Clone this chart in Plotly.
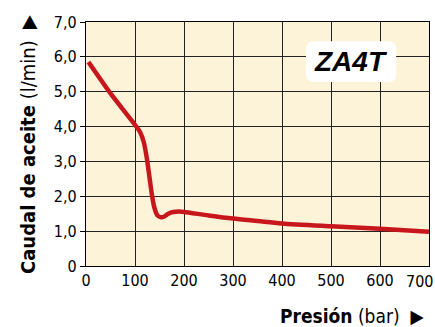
import plotly.graph_objects as go

pressure = [5, 50, 100, 110, 118, 124, 130, 135, 140, 146, 153, 160, 168, 178, 190, 200, 250, 300, 350, 400, 500, 600, 700]
flow = [5.85, 4.95, 4.05, 3.85, 3.55, 3.1, 2.5, 2.0, 1.65, 1.45, 1.40, 1.42, 1.5, 1.55, 1.56, 1.55, 1.45, 1.36, 1.29, 1.22, 1.14, 1.07, 0.98]

x_ticks = [0, 100, 200, 300, 400, 500, 600, 700]
y_ticks = [0, 1, 2, 3, 4, 5, 6, 7]
y_tick_labels = ["0", "1,0", "2,0", "3,0", "4,0", "5,0", "6,0", "7,0"]

model_label = "ZA4T"
x_title = "<b>Presión</b> (bar)  ▶"
y_title = "<b>Caudal de aceite</b> (l/min)  ▶"

FONT = "DejaVu Sans Condensed, Liberation Sans Narrow, Liberation Sans, Arial, sans-serif"

fig = go.Figure()
fig.add_trace(go.Scatter(
    x=pressure, y=flow, mode="lines",
    line=dict(color="#c8161d", width=4.5, shape="spline", smoothing=0.8),
    hoverinfo="skip", showlegend=False,
))

# rounded white box for model label (data coords)
x0, x1, y0, y1 = 449, 633, 5.28, 6.45
rx, ry = 16, 0.23
path = (f"M {x0+rx},{y1} L {x1-rx},{y1} Q {x1},{y1} {x1},{y1-ry} "
        f"L {x1},{y0+ry} Q {x1},{y0} {x1-rx},{y0} L {x0+rx},{y0} "
        f"Q {x0},{y0} {x0},{y0+ry} L {x0},{y1-ry} Q {x0},{y1} {x0+rx},{y1} Z")
fig.add_shape(type="path", path=path, xref="x", yref="y",
              fillcolor="white", line=dict(width=0), layer="above")

fig.add_annotation(x=(x0 + x1) / 2, y=(y0 + y1) / 2, xref="x", yref="y",
                   text=f"<b><i>{model_label}</i></b>", showarrow=False,
                   font=dict(family="Liberation Sans, Arial", size=28, color="black"))

# last x tick label, right-aligned so it stays inside the figure
fig.add_annotation(x=x_ticks[-1], y=0, xref="x", yref="y", text=str(x_ticks[-1]),
                   showarrow=False, xanchor="right", yanchor="top", xshift=6, yshift=-4,
                   font=dict(family=FONT, size=16, color="black"))

fig.add_annotation(x=426, y=316, xref="paper", yref="paper", text=x_title,
                   showarrow=False, xanchor="right", yanchor="middle",
                   font=dict(family=FONT, size=19, color="black"))
fig.add_annotation(x=28, y=145, xref="paper", yref="paper", text=y_title,
                   showarrow=False, textangle=-90, xanchor="center", yanchor="middle",
                   font=dict(family=FONT, size=20, color="black"))

W, H = 435, 327
L, R, T, B = 86, 6, 22, 61
pw, ph = W - L - R, H - T - B
for ann in fig.layout.annotations:
    if ann.xref == "paper":
        ann.x = (ann.x - L) / pw
        ann.y = (H - B - ann.y) / ph

fig.update_layout(
    width=W, height=H,
    margin=dict(l=L, r=R, t=T, b=B, pad=0, autoexpand=False),
    paper_bgcolor="white", plot_bgcolor="#fdf3d8",
    font=dict(family=FONT, size=16, color="black"),
    xaxis=dict(range=[0, 700], tickvals=x_ticks[:-1], ticktext=[str(v) for v in x_ticks[:-1]],
               showgrid=True, gridcolor="#222", gridwidth=1,
               showline=True, linecolor="black", linewidth=1.2, mirror=True,
               ticks="", zeroline=False, fixedrange=True, automargin=False),
    yaxis=dict(range=[0, 7], tickvals=y_ticks, ticktext=y_tick_labels,
               showgrid=True, gridcolor="#222", gridwidth=1,
               showline=True, linecolor="black", linewidth=1.2, mirror=True,
               ticks="outside", ticklen=5, tickcolor="black", zeroline=False,
               fixedrange=True, automargin=False),
)

fig.write_html("out.html", config={"displayModeBar": False},
               post_script="document.body.style.margin='0';document.body.style.overflow='hidden';")
